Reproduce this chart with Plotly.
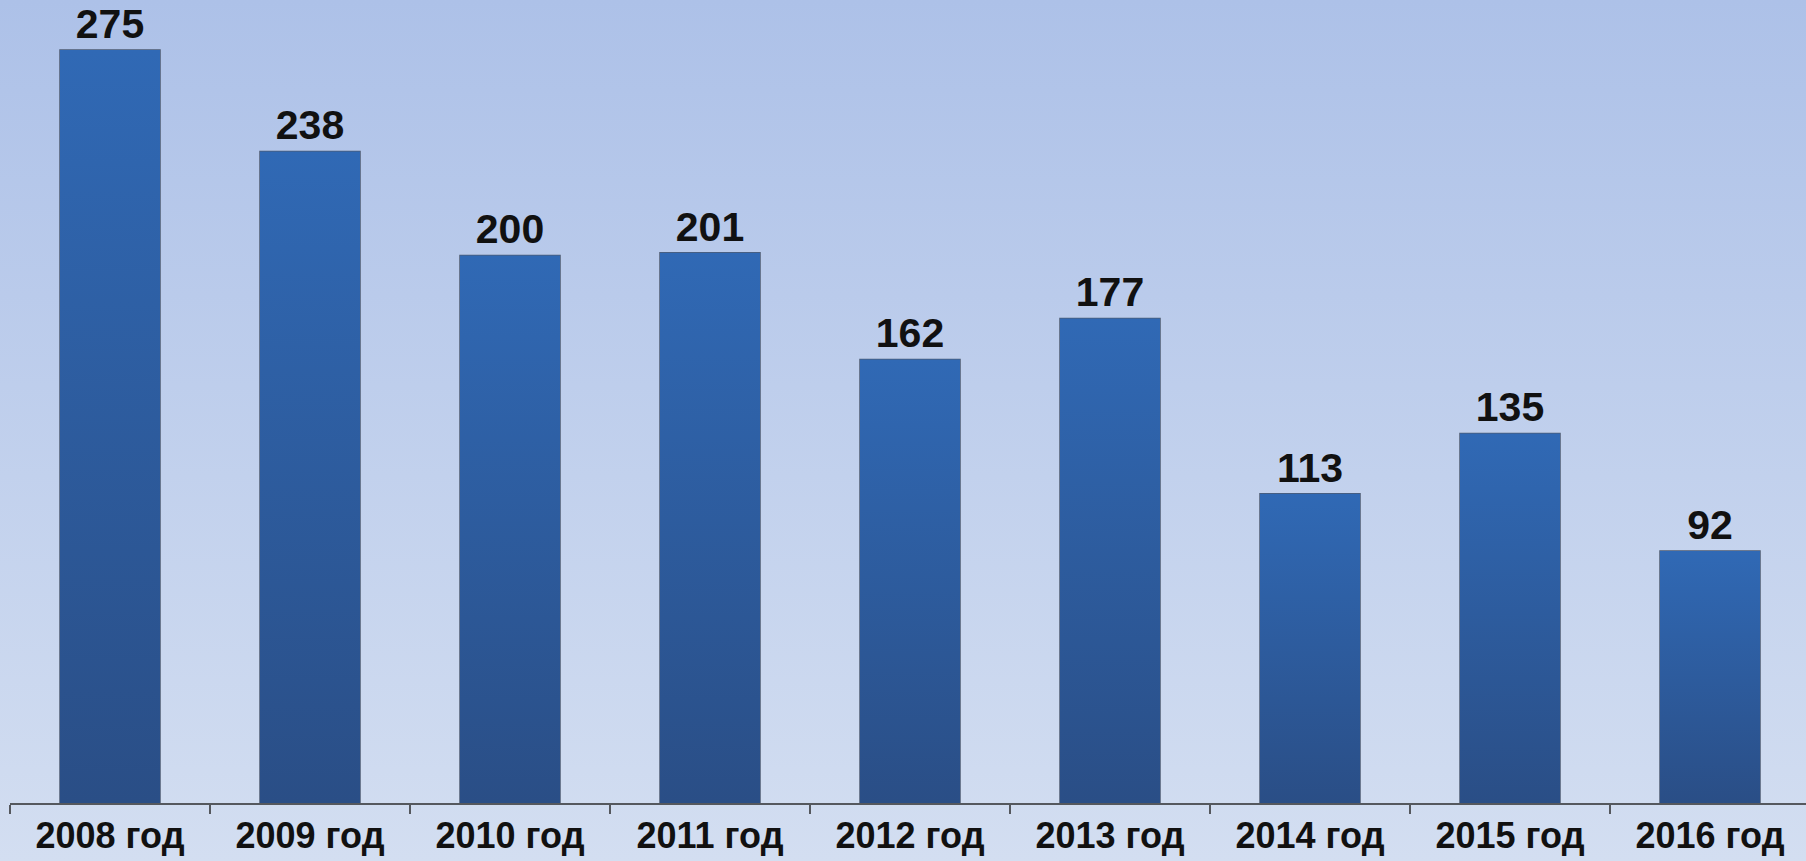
import plotly.graph_objects as go

# Values per year
years = ["2008 год", "2009 год", "2010 год", "2011 год", "2012 год",
         "2013 год", "2014 год", "2015 год", "2016 год"]
values = [275, 238, 200, 201, 162, 177, 113, 135, 92]

W, H = 1806, 861
M_L, M_R, M_T, M_B = 10, 0, 0, 58
plot_w = W - M_L - M_R
plot_h = H - M_T - M_B
slot_px = 200.0
x_range = [-0.5, -0.5 + plot_w / slot_px]
y_range = [0, 293.3]
bar_half = 0.25

BAR_TOP = "#3069b5"
BAR_BOTTOM = "#2a4e86"

fig = go.Figure()

# Gradient body of each bar, built from the same values on an overlay axis
for i, v in enumerate(values):
    fig.add_trace(go.Scatter(
        x=[i - bar_half, i - bar_half, i + bar_half, i + bar_half, i - bar_half],
        y=[0, v, v, 0, 0],
        xaxis="x2", yaxis="y",
        mode="lines", line=dict(width=0),
        fill="toself",
        fillgradient=dict(type="vertical",
                          colorscale=[[0, BAR_BOTTOM], [1, BAR_TOP]]),
        hoverinfo="skip", showlegend=False,
    ))

# Bars with outline and value labels
fig.add_trace(go.Bar(
    x=years, y=values,
    marker=dict(color="rgba(0,0,0,0)", line=dict(color="#4d5b72", width=1.5)),
    text=[str(v) for v in values],
    textposition="outside",
    textfont=dict(family="Liberation Sans, Arial", size=41, color="#111111",
                  weight="bold"),
    cliponaxis=False,
    showlegend=False,
))

# Soft vertical gradient behind the whole chart
bg_svg = (
    "data:image/svg+xml;utf8,"
    "<svg xmlns='http://www.w3.org/2000/svg' width='100' height='100' preserveAspectRatio='none'>"
    "<defs><linearGradient id='g' x1='0' y1='0' x2='0' y2='1'>"
    "<stop offset='0' stop-color='%23adc1e8'/>"
    "<stop offset='1' stop-color='%23d3def1'/>"
    "</linearGradient></defs>"
    "<rect width='100' height='100' fill='url(%23g)'/></svg>"
)

fig.update_layout(
    width=W, height=H,
    margin=dict(l=M_L, r=M_R, t=M_T, b=M_B, pad=0),
    paper_bgcolor="#c2d1ec",
    plot_bgcolor="rgba(0,0,0,0)",
    bargap=0.5,
    images=[dict(
        source=bg_svg, xref="paper", yref="paper",
        x=-M_L / plot_w, y=1 + M_T / plot_h,
        sizex=W / plot_w, sizey=H / plot_h,
        sizing="stretch", xanchor="left", yanchor="top", layer="below",
    )],
    xaxis=dict(
        type="category", range=x_range,
        showline=True, linecolor="#55585e", linewidth=2,
        ticks="outside", tickson="boundaries", ticklen=9, tickwidth=2,
        tickcolor="#55585e",
        tickfont=dict(family="Liberation Sans, Arial", size=36, color="#111111",
                      weight="bold"),
        showgrid=False, zeroline=False, fixedrange=True,
    ),
    xaxis2=dict(
        overlaying="x", range=x_range, visible=False, fixedrange=True,
    ),
    yaxis=dict(range=y_range, visible=False, fixedrange=True),
)

fig.write_html("out.html")
